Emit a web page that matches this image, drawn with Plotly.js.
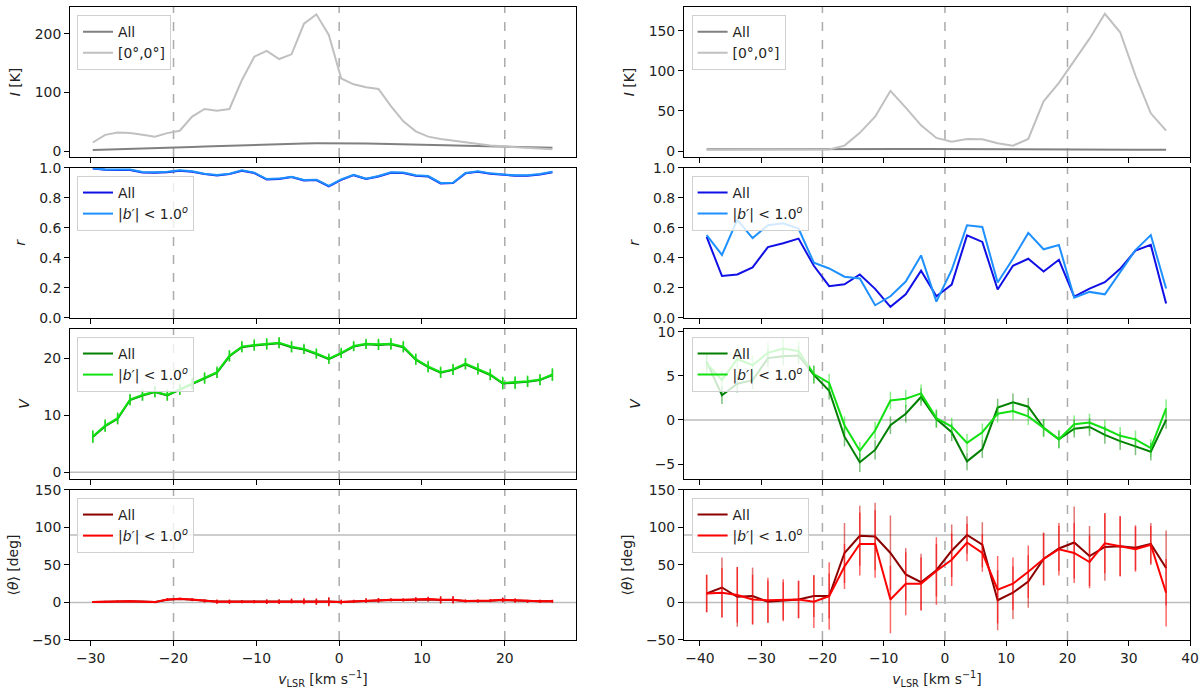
<!DOCTYPE html>
<html>
<head>
<meta charset="utf-8">
<script src="https://cdn.plot.ly/plotly-3.0.1.min.js"></script>
<style>
  html, body { margin: 0; padding: 0; background: #fff; }
  #chart { width: 1200px; height: 692px; }
</style>
</head>
<body>
<div id="chart"></div>
<script>
// velocity channels (km/s)
const velLeft = [-29.75, -28.25, -26.75, -25.25, -23.75, -22.25, -20.75, -19.25, -17.75, -16.25,
    -14.75, -13.25, -11.75, -10.25, -8.75, -7.25, -5.75, -4.25, -2.75, -1.25,
    0.25, 1.75, 3.25, 4.75, 6.25, 7.75, 9.25, 10.75, 12.25, 13.75,
    15.25, 16.75, 18.25, 19.75, 21.25, 22.75, 24.25, 25.75];
const velRight = [-38.9, -36.4, -33.9, -31.4, -28.9, -26.4, -23.9, -21.4, -18.9, -16.4,
    -13.9, -11.4, -8.9, -6.4, -3.9, -1.4, 1.1, 3.6, 6.1, 8.6,
    11.1, 13.6, 16.1, 18.6, 21.1, 23.6, 26.1, 28.6, 31.1, 33.6, 36.1];

// left column
const intensAllL = [2.3, 2.8, 3.3, 3.9, 4.5, 5.2, 5.9, 6.6, 7.4, 8.2, 9.0, 9.8, 10.6, 11.3, 12.0, 12.6, 13.1, 13.5, 13.8, 13.9,
    13.9, 13.7, 13.4, 13.0, 12.5, 12.0, 11.4, 10.8, 10.2, 9.6, 9.1, 8.6, 8.1, 7.7, 7.3, 6.9, 6.5, 6.1];
const intensCenterL = [15, 28, 32, 31, 28, 25, 31, 35, 59, 72, 69, 72, 121, 161, 171, 157, 165, 217, 233, 198,
    124, 114, 109, 106, 77, 51, 34, 25, 21, 18, 15, 12, 10, 8.5, 7, 5.5, 4.5, 3.5];
const corrAllL = [0.996, 0.988, 0.987, 0.987, 0.970, 0.968, 0.972, 0.981, 0.975, 0.959, 0.950, 0.959, 0.981, 0.966, 0.923, 0.926, 0.939, 0.917, 0.919, 0.877,
    0.921, 0.952, 0.926, 0.943, 0.968, 0.966, 0.948, 0.943, 0.897, 0.899, 0.964, 0.975, 0.961, 0.952, 0.948, 0.948, 0.957, 0.972];
const corrLowL = [0.998, 0.990, 0.990, 0.990, 0.973, 0.971, 0.975, 0.984, 0.978, 0.962, 0.953, 0.962, 0.984, 0.969, 0.926, 0.929, 0.942, 0.920, 0.922, 0.880,
    0.924, 0.955, 0.929, 0.946, 0.971, 0.969, 0.951, 0.946, 0.900, 0.902, 0.967, 0.978, 0.964, 0.955, 0.951, 0.951, 0.960, 0.975];
const vAllL = [6.2, 8.1, 9.4, 12.7, 13.5, 14.1, 13.5, 14.5, 15.5, 16.5, 17.5, 20.4, 22.0, 22.3, 22.5, 22.7, 22.0, 21.6, 20.8, 19.9,
    20.9, 22.1, 22.5, 22.4, 22.5, 22.0, 19.8, 18.5, 17.5, 18.0, 19.0, 18.1, 17.1, 15.6, 15.7, 15.9, 16.2, 17.1];
const vLowL = [6.3, 8.2, 9.5, 12.8, 13.6, 14.2, 13.6, 14.6, 15.6, 16.6, 17.6, 20.5, 22.1, 22.4, 22.6, 22.8, 22.1, 21.7, 20.9, 20.0,
    21.0, 22.2, 22.6, 22.5, 22.6, 22.1, 19.9, 18.6, 17.6, 18.1, 19.1, 18.2, 17.2, 15.7, 15.8, 16.0, 16.3, 17.2];
const vErrAllL = [1.0, 1.0, 1.0, 0.9, 0.9, 0.9, 0.9, 0.9, 0.9, 0.9, 0.9, 0.9, 0.9, 0.9, 0.9, 0.9, 0.9, 0.8, 0.8, 0.8,
    0.8, 0.8, 0.8, 0.9, 0.9, 0.9, 0.9, 0.9, 0.9, 0.9, 0.9, 0.9, 0.9, 1.0, 1.0, 0.9, 0.9, 1.0];
const vErrLowL = [1.1, 1.1, 1.0, 1.0, 1.0, 1.0, 1.0, 1.0, 1.0, 1.0, 1.0, 1.0, 1.0, 1.0, 1.0, 1.0, 1.0, 0.9, 0.9, 0.9,
    0.9, 0.9, 0.9, 1.0, 1.0, 1.0, 1.0, 1.0, 1.0, 1.0, 1.0, 1.0, 1.0, 1.1, 1.1, 1.0, 1.0, 1.1];
const thetaAllL = [0.8, 1.2, 1.6, 1.6, 1.2, 0.8, 3.8, 4.6, 3.8, 2.2, 1.2, 1.2, 1.2, 1.2, 1.2, 1.2, 2.0, 1.6, 1.2, 1.2,
    0.8, 1.6, 2.4, 2.8, 3.2, 3.2, 3.6, 4.0, 3.2, 3.2, 2.0, 2.0, 2.4, 3.2, 2.4, 1.6, 1.6, 1.6];
const thetaLowL = [0.5, 1, 1.5, 1.5, 1, 0.5, 4, 5, 4, 2, 1, 1, 1, 1, 1, 1, 2, 1.5, 1, 1,
    0.5, 1.5, 2.5, 3, 3.5, 3.5, 4, 4.5, 3.5, 3.5, 2, 2, 2.5, 3.5, 2.5, 1.5, 1.5, 1.5];
const thetaErrAllL = [1, 1, 1, 1, 1, 1, 2, 1.5, 2, 2, 2, 2, 2, 2, 3, 3, 3, 3, 4, 5,
    3, 2, 3, 3, 2, 2, 3, 3, 4, 4, 2, 2, 2, 3, 2, 2, 2, 2];
const thetaErrLowL = [1, 1, 1, 1, 1, 1.5, 2, 1.5, 2, 2, 3, 3, 2, 2, 3, 3, 3, 4, 4, 6,
    3, 2, 3, 3, 2, 2, 3, 3, 5, 5, 2, 2, 2, 3, 3, 2, 2, 2];

// right column
const intensAllR = [2.1, 2.2, 2.2, 2.3, 2.3, 2.4, 2.4, 2.5, 2.5, 2.6, 2.6, 2.6, 2.6, 2.6, 2.5, 2.5, 2.4, 2.4, 2.3, 2.2,
    2.1, 2.0, 2.0, 1.9, 1.8, 1.8, 1.7, 1.6, 1.6, 1.5, 1.5];
const intensCenterR = [1.7, 1.7, 1.7, 1.7, 1.7, 1.7, 1.7, 1.8, 2, 6.7, 22.6, 42.7, 75, 54, 32, 16.3, 11.7, 15, 14.6, 9.6,
    6.7, 15, 62, 85, 113, 140, 171, 148, 94, 47, 25.5];
const corrAllR = [0.54, 0.28, 0.29, 0.337, 0.473, 0.498, 0.529, 0.348, 0.212, 0.225, 0.29, 0.194, 0.074, 0.158, 0.315, 0.145, 0.223, 0.551, 0.507, 0.19,
    0.348, 0.395, 0.31, 0.388, 0.143, 0.196, 0.239, 0.328, 0.449, 0.487, 0.096];
const corrLowR = [0.553, 0.42, 0.654, 0.533, 0.618, 0.632, 0.596, 0.368, 0.33, 0.275, 0.263, 0.085, 0.145, 0.243, 0.417, 0.109, 0.32, 0.618, 0.607, 0.237,
    0.395, 0.567, 0.458, 0.487, 0.136, 0.174, 0.158, 0.304, 0.453, 0.553, 0.196];
const vAllR = [6.6, 2.8, 4.1, 4.5, 7.0, 7.2, 7.3, 5.1, 3.3, -1.9, -4.8, -3.4, -0.6, 0.7, 2.6, 0.1, -1.4, -4.7, -3.3, 1.4,
    2.0, 1.5, -0.9, -2.2, -1.0, -0.8, -1.7, -2.4, -3.0, -3.6, 0.0];
const vLowR = [6.4, 4.5, 6.9, 6.2, 7.6, 8.1, 7.8, 5.2, 4.2, -0.6, -3.5, -1.2, 2.2, 2.4, 3.0, 0.2, -0.75, -2.6, -1.4, 0.7,
    1.0, 0.4, -0.9, -2.2, -0.5, -0.3, -1.0, -1.8, -2.2, -3.2, 1.3];
const vErrAllR = [1.0, 1.0, 1.0, 1.0, 1.0, 1.0, 1.0, 1.0, 1.0, 1.1, 1.1, 1.1, 1.0, 1.0, 1.0, 1.0, 1.0, 1.0, 1.0, 1.0,
    1.0, 1.0, 1.0, 1.0, 1.0, 1.0, 1.0, 1.0, 1.0, 1.0, 1.0];
const vErrLowR = [1.1, 1.1, 1.1, 1.1, 1.2, 1.2, 1.1, 1.0, 1.0, 1.0, 1.0, 1.0, 1.0, 1.0, 1.0, 1.0, 1.0, 1.0, 1.0, 1.0,
    1.0, 1.0, 1.0, 1.0, 1.0, 1.0, 1.0, 1.0, 1.0, 1.0, 1.0];
const thetaAllR = [12, 20, 7.6, 8.5, 1, 2, 4, 8.5, 8.5, 66, 89, 88, 66, 37.5, 27, 43, 69, 90, 77, 3,
    13, 28, 58, 72, 80, 62, 74, 75, 73, 78, 46];
const thetaLowR = [12, 13, 10, 4, 3, 3, 4, 1, 8.5, 48, 78, 78, 4, 25, 25, 42, 57, 80, 66, 17,
    25, 41, 58, 71, 66, 54, 79, 75, 71, 77, 13];
const thetaErrAllR = [25, 40, 40, 38, 28, 25, 25, 28, 30, 40, 40, 45, 50, 35, 38, 35, 35, 25, 30, 40,
    35, 35, 35, 30, 48, 40, 45, 40, 30, 28, 50];
const thetaErrLowR = [25, 33, 37, 33, 30, 28, 25, 35, 45, 30, 42, 45, 45, 42, 35, 45, 35, 25, 25, 45,
    35, 35, 35, 35, 40, 35, 40, 40, 30, 25, 45];

const guideVelocities = [-20, 0, 20];
const vRefLevels = [0];
const thetaRefLevels = [0, 90];

const FONT = 'DejaVu Sans, sans-serif';
const FS = 13.9;
const lowLabel = '|<i>b′</i>| < 1.0<sup><i>o</i></sup>';

const rowDomains = [[0.763, 1], [0.5087, 0.7457], [0.2543, 0.4913], [0, 0.237]];
const colDomains = [[0, 0.4518], [0.5482, 1]];
const legendTops = [0.987, 0.733, 0.4787, 0.2243];
const legendLefts = [0.00625, 0.555];

const axId = (n) => (n === 1 ? '' : String(n));

function lineTrace(n, x, y, name, color, err, errColor) {
    const t = {
        x, y, name, type: 'scatter', mode: 'lines',
        xaxis: 'x' + axId(n), yaxis: 'y' + axId(n),
        legend: 'legend' + axId(n),
        line: { color, width: 2 },
    };
    if (err) t.error_y = { type: 'data', array: err, visible: true, color: errColor, thickness: 1.5, width: 0 };
    return t;
}

const data = [
    lineTrace(1, velLeft, intensAllL, 'All', '#808080'),
    lineTrace(1, velLeft, intensCenterL, '[0°,0°]', '#c0c0c0'),
    lineTrace(2, velLeft, corrAllL, 'All', '#1010e6'),
    lineTrace(2, velLeft, corrLowL, lowLabel, '#1e90ff'),
    lineTrace(3, velLeft, vAllL, 'All', '#008000', vErrAllL, 'rgba(0,128,0,0.6)'),
    lineTrace(3, velLeft, vLowL, lowLabel, '#11e011', vErrLowL, 'rgba(17,224,17,0.9)'),
    lineTrace(4, velLeft, thetaAllL, 'All', '#8b0000', thetaErrAllL, 'rgba(139,0,0,0.6)'),
    lineTrace(4, velLeft, thetaLowL, lowLabel, '#ff0000', thetaErrLowL, 'rgba(240,0,0,0.9)'),
    lineTrace(5, velRight, intensAllR, 'All', '#808080'),
    lineTrace(5, velRight, intensCenterR, '[0°,0°]', '#c0c0c0'),
    lineTrace(6, velRight, corrAllR, 'All', '#1010e6'),
    lineTrace(6, velRight, corrLowR, lowLabel, '#1e90ff'),
    lineTrace(7, velRight, vAllR, 'All', '#008000', vErrAllR, 'rgba(0,128,0,0.5)'),
    lineTrace(7, velRight, vLowR, lowLabel, '#11e011', vErrLowR, 'rgba(17,224,17,0.5)'),
    lineTrace(8, velRight, thetaAllR, 'All', '#8b0000', thetaErrAllR, 'rgba(200,0,0,0.55)'),
    lineTrace(8, velRight, thetaLowR, lowLabel, '#ff0000', thetaErrLowR, 'rgba(255,0,0,0.6)'),
];

const axisBase = {
    showline: true, mirror: true, linecolor: '#000', linewidth: 1,
    ticks: 'outside', ticklen: 5, tickwidth: 1, tickcolor: '#000',
    showgrid: false, zeroline: false,
    tickfont: { family: FONT, size: FS, color: '#222' },
};

const yConf = {
    1: { range: [-9.7, 245.5], dtick: 100, title: '<i>I</i> [K]' },
    2: { range: [0, 1], dtick: 0.2, tickformat: '.1f', title: '<i>r</i>' },
    3: { range: [-1.2, 25.2], dtick: 10, title: '<i>V</i>' },
    4: { range: [-50, 150], dtick: 50, title: '⟨<i>θ</i>⟩ [deg]' },
    5: { range: [-7.5, 179.5], dtick: 50, title: '<i>I</i> [K]' },
    6: { range: [0, 1], dtick: 0.2, tickformat: '.1f', title: '<i>r</i>' },
    7: { range: [-6.7, 10.3], dtick: 5, title: '<i>V</i>' },
    8: { range: [-50, 150], dtick: 50, title: '⟨<i>θ</i>⟩ [deg]' },
};

const layout = {
    width: 1200, height: 692,
    margin: { l: 70, r: 10, t: 7, b: 52 },
    paper_bgcolor: '#fff', plot_bgcolor: '#fff',
    font: { family: FONT, size: FS, color: '#222' },
    shapes: [],
};

for (let n = 1; n <= 8; n++) {
    const col = n <= 4 ? 0 : 1;
    const row = (n - 1) % 4;
    const id = axId(n);
    const yc = yConf[n];
    const xa = Object.assign({}, axisBase, {
        domain: colDomains[col],
        anchor: 'y' + id,
        range: col === 0 ? [-32.5, 28.6] : [-42.6, 40],
        dtick: 10, tick0: 0,
        showticklabels: row === 3,
    });
    if (row === 3) xa.title = { text: '<i>v</i><sub>LSR</sub> [km s<sup>−1</sup>]', font: { size: FS }, standoff: 9 };
    layout['xaxis' + id] = xa;
    layout['yaxis' + id] = Object.assign({}, axisBase, {
        domain: rowDomains[row],
        anchor: 'x' + id,
        range: yc.range, dtick: yc.dtick, tick0: 0,
        tickformat: yc.tickformat,
        title: { text: yc.title, font: { size: FS }, standoff: 10 },
    });
    layout['legend' + id] = {
        x: legendLefts[col], y: legendTops[row], xanchor: 'left', yanchor: 'top',
        bgcolor: 'rgba(255,255,255,0.8)', bordercolor: '#d0d0d0', borderwidth: 1,
        font: { family: FONT, size: FS, color: '#222' },
        itemwidth: 30, tracegroupgap: 0,
    };
    guideVelocities.forEach((v) => {
        layout.shapes.push({
            type: 'line', xref: 'x' + id, yref: 'y' + id + ' domain',
            x0: v, x1: v, y0: 0, y1: 1, layer: 'below',
            line: { color: '#ababab', width: 1.5, dash: 'dash' },
        });
    });
    const levels = row === 2 ? vRefLevels : row === 3 ? thetaRefLevels : [];
    levels.forEach((lv) => {
        layout.shapes.push({
            type: 'line', xref: 'x' + id + ' domain', yref: 'y' + id,
            x0: 0, x1: 1, y0: lv, y1: lv, layer: 'below',
            line: { color: '#bdbdbd', width: 1.5 },
        });
    });
}

Plotly.newPlot('chart', data, layout, { displayModeBar: false, staticPlot: true });
</script>
</body>
</html>
